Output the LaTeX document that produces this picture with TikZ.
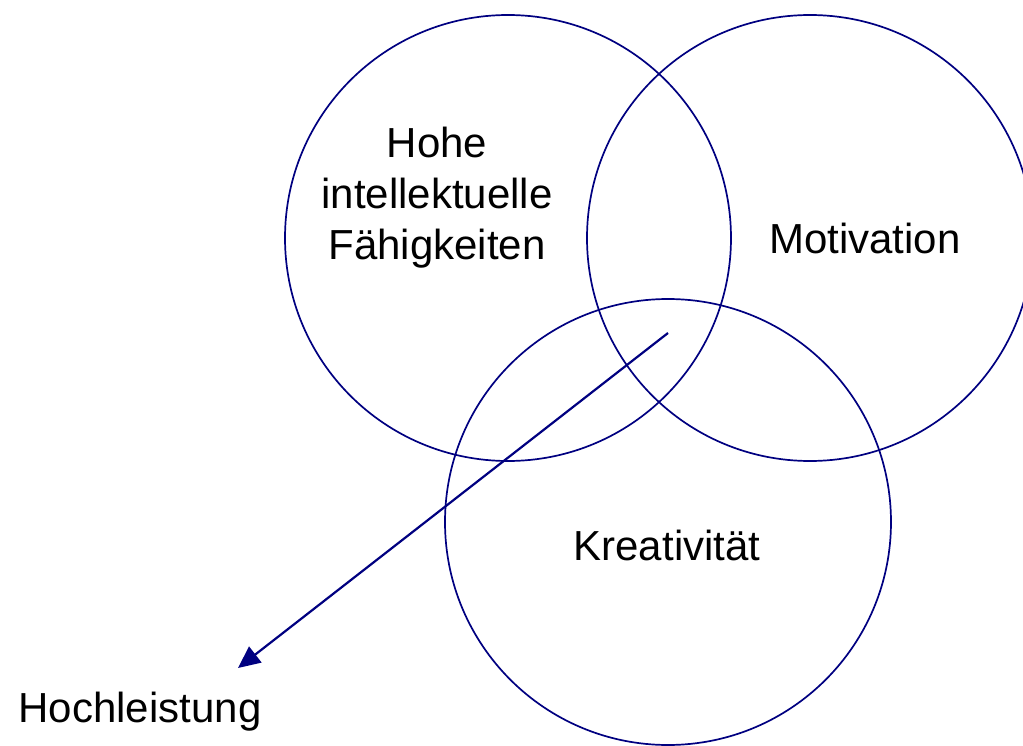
\documentclass[tikz,border=0pt]{standalone}
\usepackage{fontspec}
\setmainfont{Liberation Sans}
\usetikzlibrary{arrows.meta}
\definecolor{navy}{RGB}{0,0,128}
\begin{document}
\begin{tikzpicture}[x=1pt,y=-1pt,
        ring/.style={circle,draw=navy,line width=1.7pt,minimum size=446pt,inner sep=0pt},
        lbl/.style={font=\fontsize{42}{51}\selectfont,align=center,inner sep=0pt}]
\useasboundingbox (0,0) rectangle (1023,746);
 \node[ring] (intel) at (508,238) {};
 \node[ring] (motiv) at (810,238) {};
 \node[ring] (kreat) at (668,522) {};

\node[lbl] (tintel) at (437,198) {Hohe\\intellektuelle\\Fähigkeiten};
\node[lbl] (tmotiv) at (865,238) {Motivation};
\node[lbl] (tkreat) at (667,545) {Kreativität};
\node[lbl] (hoch) at (140,712) {Hochleistung};

\coordinate (mitte) at (668,333);
\coordinate (tip) at (238,668);
\draw[navy, line width=2.2pt, -{Triangle[length=22pt,width=20pt]}] (mitte) -- (tip);

\end{tikzpicture}
\end{document}
